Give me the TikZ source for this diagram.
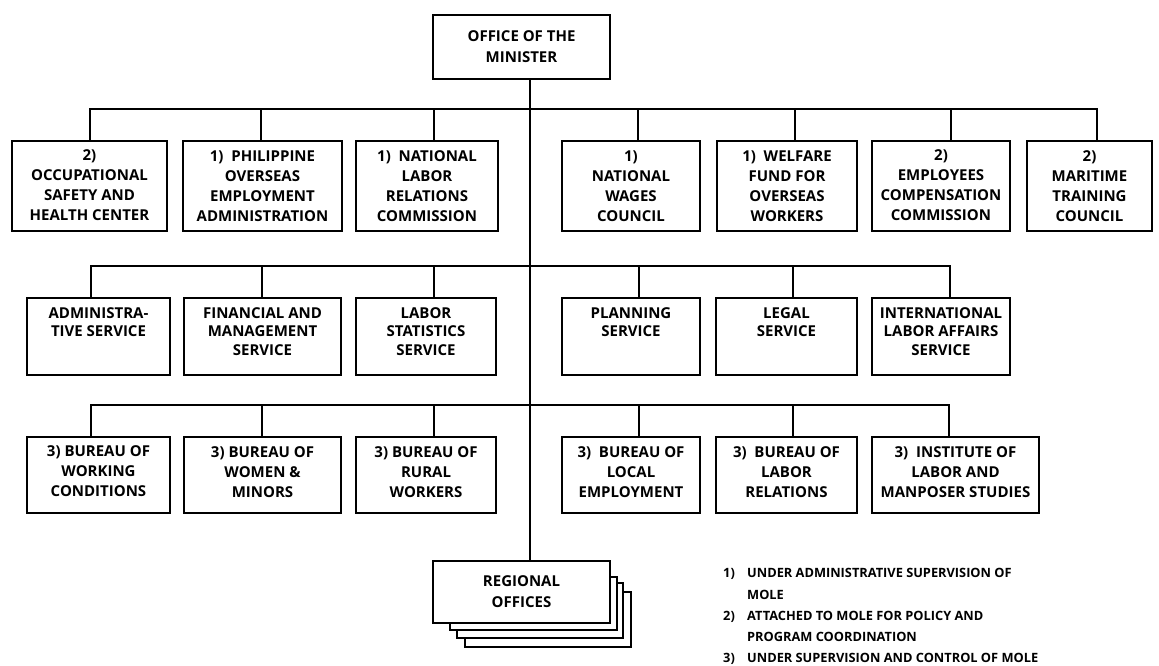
\documentclass[tikz,border=0pt]{standalone}
\usepackage{fontspec}
\setmainfont{Open Sans}
\begin{document}
\begin{tikzpicture}[x=1pt,y=-1pt,
  box/.style={draw, line width=1.3pt, inner sep=0pt, fill=white},
  thickbox/.style={box, line width=2.6pt},
  conn/.style={line width=1.3pt},
  trunk/.style={line width=2pt},
  lbl/.style={anchor=north, inner sep=0pt, align=center,
    font=\bfseries\fontsize{15}{20}\selectfont,
    execute at begin node={\rule{0pt}{11.5pt}}},
  lbltwo/.style={lbl, font=\bfseries\fontsize{15}{18.5}\selectfont},
  ctext/.style={inner sep=0pt, align=center, font=\bfseries\fontsize{15}{21}\selectfont},
  legtxt/.style={anchor=base west, inner sep=0pt, font=\bfseries\fontsize{12.8}{20}\selectfont}
]
\useasboundingbox (0,0) rectangle (1159,666);

% ---- top box
\node[thickbox, minimum width=177pt, minimum height=64pt] (office) at (521.5,47) {};
\node[ctext] (office-t) at (office.center) {OFFICE OF THE\\MINISTER};

% ---- row 1
\node[thickbox, minimum width=155pt, minimum height=90pt] (oshc) at (89.5,186) {};
\node[box, minimum width=159pt, minimum height=90pt] (poea) at (262.5,186) {};
\node[box, minimum width=142pt, minimum height=90pt] (nlrc) at (427,186) {};
\node[box, minimum width=138pt, minimum height=90pt] (nwc) at (631,186) {};
\node[box, minimum width=140pt, minimum height=90pt] (wfow) at (787,186) {};
\node[thickbox, minimum width=138pt, minimum height=90pt] (ecc) at (941,186) {};
\node[box, minimum width=125pt, minimum height=90pt] (mtc) at (1089.5,186) {};

\node[lbl] (oshc-t) at ([yshift=-10pt]oshc.north) {2)\\OCCUPATIONAL\\SAFETY AND\\HEALTH CENTER};
\node[lbl] (poea-t) at ([yshift=-10pt]poea.north) {1)~ PHILIPPINE\\OVERSEAS\\EMPLOYMENT\\ADMINISTRATION};
\node[lbl] (nlrc-t) at ([yshift=-10pt]nlrc.north) {1)~ NATIONAL\\LABOR\\RELATIONS\\COMMISSION};
\node[lbl] (nwc-t) at ([yshift=-10pt]nwc.north) {1)\\NATIONAL\\WAGES\\COUNCIL};
\node[lbl] (wfow-t) at ([yshift=-10pt]wfow.north) {1)~ WELFARE\\FUND FOR\\OVERSEAS\\WORKERS};
\node[lbl] (ecc-t) at ([yshift=-10pt]ecc.north) {2)\\EMPLOYEES\\COMPENSATION\\COMMISSION};
\node[lbl] (mtc-t) at ([yshift=-10pt]mtc.north) {2)\\MARITIME\\TRAINING\\COUNCIL};

% ---- row 2
\node[box, minimum width=143pt, minimum height=77pt] (adm) at (98.5,336.5) {};
\node[box, minimum width=157pt, minimum height=77pt] (fin) at (262.5,336.5) {};
\node[box, minimum width=140pt, minimum height=77pt] (lss) at (426,336.5) {};
\node[box, minimum width=138pt, minimum height=77pt] (pln) at (631,336.5) {};
\node[box, minimum width=141pt, minimum height=77pt] (leg) at (786.5,336.5) {};
\node[box, minimum width=138pt, minimum height=77pt] (ilas) at (941,336.5) {};

\node[lbltwo] (adm-t) at ([yshift=-10pt]adm.north) {ADMINISTRA-\\TIVE SERVICE};
\node[lbltwo] (fin-t) at ([yshift=-10pt]fin.north) {FINANCIAL AND\\MANAGEMENT\\SERVICE};
\node[lbltwo] (lss-t) at ([yshift=-10pt]lss.north) {LABOR\\STATISTICS\\SERVICE};
\node[lbltwo] (pln-t) at ([yshift=-10pt]pln.north) {PLANNING\\SERVICE};
\node[lbltwo] (leg-t) at ([yshift=-10pt]leg.north) {LEGAL\\SERVICE};
\node[lbltwo] (ilas-t) at ([yshift=-10pt]ilas.north) {INTERNATIONAL\\LABOR AFFAIRS\\SERVICE};

% ---- row 3
\node[thickbox, minimum width=143pt, minimum height=76pt] (bwc) at (98.5,475) {};
\node[box, minimum width=157pt, minimum height=76pt] (bwm) at (262.5,475) {};
\node[box, minimum width=140pt, minimum height=76pt] (brw) at (426,475) {};
\node[box, minimum width=138pt, minimum height=76pt] (ble) at (631,475) {};
\node[box, minimum width=141pt, minimum height=76pt] (blr) at (786.5,475) {};
\node[box, minimum width=167pt, minimum height=76pt] (ilms) at (955.5,475) {};

\node[lbl] (bwc-t) at ([yshift=-10pt]bwc.north) {3) BUREAU OF\\WORKING\\CONDITIONS};
\node[lbl] (bwm-t) at ([yshift=-10pt]bwm.north) {3) BUREAU OF\\WOMEN \&\\MINORS};
\node[lbl] (brw-t) at ([yshift=-10pt]brw.north) {3) BUREAU OF\\RURAL\\WORKERS};
\node[lbl] (ble-t) at ([yshift=-10pt]ble.north) {3)~ BUREAU OF\\LOCAL\\EMPLOYMENT};
\node[lbl] (blr-t) at ([yshift=-10pt]blr.north) {3)~ BUREAU OF\\LABOR\\RELATIONS};
\node[lbl] (ilms-t) at ([yshift=-10pt]ilms.north) {3)~ INSTITUTE OF\\LABOR AND\\MANPOSER STUDIES};

% ---- regional offices (stack)
\node[box, minimum width=166pt, minimum height=55pt] (reg4) at (548,619.5) {};
\node[box, minimum width=166pt, minimum height=55pt] (reg3) at (540,610.5) {};
\node[box, minimum width=167pt, minimum height=53pt] (reg2) at (533.5,603.5) {};
\node[box, minimum width=177pt, minimum height=62pt] (reg1) at (521.5,592) {};
\node[ctext] (reg1-t) at (reg1.center) {REGIONAL\\OFFICES};

% ---- connectors
\coordinate (bus1) at (530,109);
\coordinate (bus2) at (530,266);
\coordinate (bus3) at (530,405);

\draw[trunk] ([xshift=8.5pt]office.south) -- ([xshift=8.5pt]reg1.north);

\draw[conn] ([xshift=0.5pt]oshc.north) |- (bus1);
\draw[conn] ([xshift=-1.5pt]poea.north) |- (bus1);
\draw[conn] ([xshift=7pt]nlrc.north) |- (bus1);
\draw[conn] ([xshift=7pt]nwc.north) |- (bus1);
\draw[conn] ([xshift=8pt]wfow.north) |- (bus1);
\draw[conn] ([xshift=10pt]ecc.north) |- (bus1);
\draw[conn] ([xshift=7.5pt]mtc.north) |- (bus1);

\draw[conn] ([xshift=-7.5pt]adm.north) |- (bus2);
\draw[conn] ([xshift=-0.5pt]fin.north) |- (bus2);
\draw[conn] ([xshift=8pt]lss.north) |- (bus2);
\draw[conn] ([xshift=8pt]pln.north) |- (bus2);
\draw[conn] ([xshift=6.5pt]leg.north) |- (bus2);
\draw[conn] ([xshift=9pt]ilas.north) |- (bus2);

\draw[conn] ([xshift=-7.5pt]bwc.north) |- (bus3);
\draw[conn] ([xshift=-0.5pt]bwm.north) |- (bus3);
\draw[conn] ([xshift=8pt]brw.north) |- (bus3);
\draw[conn] ([xshift=8pt]ble.north) |- (bus3);
\draw[conn] ([xshift=6.5pt]blr.north) |- (bus3);
\draw[conn] ([xshift=-6.5pt]ilms.north) |- (bus3);

% ---- legend
\node[legtxt] (l1n) at (723,577) {1)};
\node[legtxt] (l1a) at (747,577) {UNDER ADMINISTRATIVE SUPERVISION OF};
\node[legtxt] (l1b) at (747,599) {MOLE};
\node[legtxt] (l2n) at (723,620) {2)};
\node[legtxt] (l2a) at (747,620) {ATTACHED TO MOLE FOR POLICY AND};
\node[legtxt] (l2b) at (747,641) {PROGRAM COORDINATION};
\node[legtxt] (l3n) at (723,662) {3)};
\node[legtxt] (l3a) at (747,662) {UNDER SUPERVISION AND CONTROL OF MOLE};
\end{tikzpicture}
\end{document}
